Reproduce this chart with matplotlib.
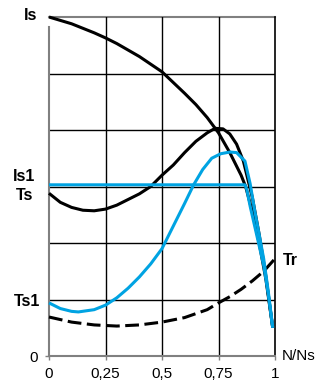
import numpy as np
import matplotlib.pyplot as plt

# (y in grid units, 6 = Is)
x_is = [0, 0.1, 0.2, 0.25, 0.3, 0.4, 0.5, 0.6, 0.65, 0.7, 0.75, 0.8, 0.85, 0.87, 0.9, 0.93, 0.96, 0.99]
y_is = [6.0, 5.88, 5.72, 5.63, 5.53, 5.3, 5.03, 4.65, 4.45, 4.22, 3.95, 3.6, 3.2, 3.0, 2.55, 2.0, 1.35, 0.5]

x_ts = [0, 0.05, 0.1, 0.15, 0.2, 0.25, 0.3, 0.35, 0.4, 0.45, 0.5, 0.55, 0.6, 0.65, 0.7,
        0.735, 0.77, 0.8, 0.83, 0.86, 0.9, 0.93, 0.96, 0.99]
y_ts = [2.88, 2.72, 2.63, 2.58, 2.57, 2.6, 2.67, 2.77, 2.87, 3.0, 3.2, 3.38, 3.6, 3.8, 3.95,
        4.03, 4.02, 3.93, 3.75, 3.45, 2.8, 2.15, 1.4, 0.5]

x_is1 = [0, 0.867, 0.875, 0.89, 0.91, 0.93, 0.95, 0.97, 0.99]
y_is1 = [3.03, 3.03, 2.95, 2.65, 2.3, 1.95, 1.6, 1.1, 0.5]

x_ts1 = [0, 0.05, 0.1, 0.13, 0.2, 0.25, 0.3, 0.35, 0.4, 0.45, 0.5, 0.55, 0.6, 0.64, 0.68,
         0.72, 0.76, 0.8, 0.83, 0.867, 0.89, 0.91, 0.93, 0.95, 0.97, 0.99]
y_ts1 = [0.94, 0.84, 0.79, 0.78, 0.82, 0.9, 1.03, 1.2, 1.4, 1.63, 1.9, 2.3, 2.7, 3.03, 3.3,
         3.5, 3.58, 3.61, 3.6, 3.45, 3.05, 2.58, 2.15, 1.72, 1.15, 0.5]

x_tr = [0, 0.1, 0.2, 0.3, 0.4, 0.5, 0.6, 0.7, 0.75, 0.8, 0.85, 0.9, 0.95, 0.995]
y_tr = [0.69, 0.6, 0.55, 0.53, 0.55, 0.6, 0.68, 0.82, 0.94, 1.05, 1.18, 1.33, 1.5, 1.7]

xticks = [0, 0.25, 0.5, 0.75, 1]
xlabels = ['0', '0,25', '0,5', '0,75', '1']

plt.rcParams['font.family'] = ['Liberation Sans', 'DejaVu Sans']

fig = plt.figure(figsize=(3.2, 3.85), dpi=100)
ax = fig.add_axes([49 / 320, 1 - 356 / 385, 226 / 320, 339 / 385])
ax.set_xlim(0, 1)
ax.set_ylim(0, 6)

# grid
for yy in [1, 2, 3, 4, 5]:
    ax.axhline(yy, color='black', lw=1, zorder=1)
ax.axhline(6, color='#808080', lw=1.5, zorder=1, clip_on=False)
for xx in [0.25, 0.5, 0.75]:
    ax.axvline(xx, color='black', lw=1, zorder=1)
ax.axvline(1, color='black', lw=1.2, zorder=1, clip_on=False)

blue = '#00a3e2'
lw = 2.2
style = dict(lw=lw, clip_on=False, solid_joinstyle='round', solid_capstyle='butt')
ax.plot(x_tr, y_tr, color='black', dashes=(4.5, 1.8), zorder=3, **style)
ax.plot(x_is, y_is, color='black', zorder=3, **style)
ax.plot(x_ts, y_ts, color='black', zorder=3, **style)
ax.plot(x_is1, y_is1, color=blue, zorder=4, **style)
ax.plot(x_ts1, y_ts1, color=blue, zorder=4, **style)

for s in ['top', 'right']:
    ax.spines[s].set_visible(False)
for s in ['left', 'bottom']:
    ax.spines[s].set_color('#808080')
    ax.spines[s].set_linewidth(1.5)
ax.spines['left'].set_bounds(0, 5.83)

ax.set_xticks(xticks)
ax.set_xticklabels(xlabels)
ax.set_yticks([0])
ax.set_yticklabels(['0'])
ax.tick_params(length=3, width=1, color='#808080', labelsize=11, pad=5)

bold = dict(fontsize=11.5, fontweight='bold', ha='center', va='center')
ax.text(-0.08, 6.03, 'Is', clip_on=False, **bold)
ax.text(-0.11, 3.17, 'Is1', clip_on=False, **bold)
ax.text(-0.11, 2.84, 'Ts', clip_on=False, **bold)
ax.text(-0.095, 0.97, 'Ts1', clip_on=False, **bold)
ax.text(1.07, 1.69, 'Tr', clip_on=False, **bold)
ax.text(1.03, 0.0, 'N/Ns', fontsize=11, ha='left', va='center', clip_on=False)

fig.savefig('out.png', dpi=100)
